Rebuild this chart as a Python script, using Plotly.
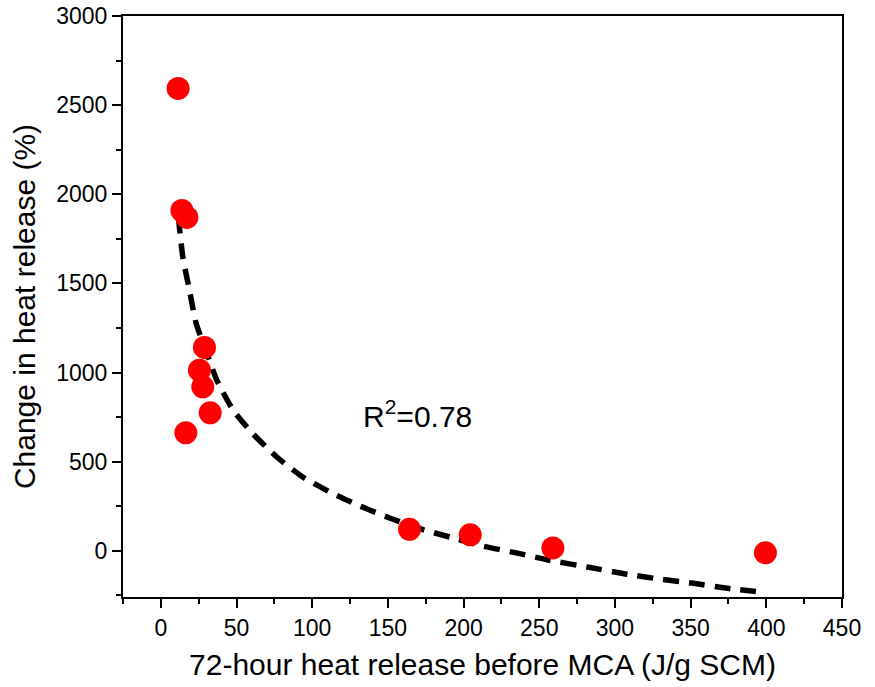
import plotly.graph_objects as go

# Measured samples: 72-hour heat release before MCA vs. change in heat release
heat_before = [11.4, 13.9, 17.2, 28.8, 25.5, 27.7, 32.6, 16.5, 164.3, 204.4, 259.0, 399.4]
change_pct = [2594, 1909, 1870, 1141, 1013, 920, 774, 662, 121, 90, 16, -11]

# Trend line (fitted curve) values
fit_x = [11.6, 14.5, 18.9, 23.3, 30.4, 37.0, 47.8, 61.0, 76.8, 94.0, 113.0, 131.7,
         151.5, 170.0, 191.0, 213.0, 235.6, 256.0, 281.8, 308.0, 330.0, 352.0, 373.0, 398.0]
fit_y = [1870, 1650, 1462, 1277, 1109, 957, 789, 655, 525, 413, 324, 251,
         183, 127, 77, 26, -13, -52, -91, -131, -159, -182, -209, -232]

r2_text = "R<sup>2</sup>=0.78"

FONT = "Liberation Sans, Arial, sans-serif"

fig = go.Figure()

fig.add_trace(go.Scatter(
    x=fit_x, y=fit_y, mode="lines",
    line=dict(color="black", width=5.5, dash="16px,10px", shape="spline", smoothing=0.6),
    hoverinfo="skip", showlegend=False,
))

fig.add_trace(go.Scatter(
    x=heat_before, y=change_pct, mode="markers",
    marker=dict(color="#ff0000", size=23, line=dict(width=0)),
    showlegend=False,
))

fig.add_annotation(
    x=132, y=765, xref="x", yref="y", text=r2_text, showarrow=False,
    xanchor="left", yanchor="middle",
    font=dict(family=FONT, size=30, color="black"),
)

axis_common = dict(
    showgrid=False, zeroline=False, automargin=False,
    showline=True, linecolor="black", linewidth=2, mirror=True,
    ticks="outside", ticklen=9, tickwidth=2, tickcolor="black",
    tickfont=dict(family=FONT, size=23, color="black"),
)

fig.update_xaxes(
    range=[-25, 450], tickmode="array", tickvals=[0, 50, 100, 150, 200, 250, 300, 350, 400, 450],
    minor=dict(ticks="outside", ticklen=5, tickwidth=2, tickcolor="black", dtick=25, tick0=-25),
    title=dict(text="72-hour heat release before MCA (J/g SCM)",
               font=dict(family=FONT, size=30, color="black"), standoff=14),
    **axis_common,
)
fig.update_yaxes(
    range=[-259, 3000], tickmode="array", tickvals=[0, 500, 1000, 1500, 2000, 2500, 3000],
    minor=dict(ticks="outside", ticklen=5, tickwidth=2, tickcolor="black", dtick=250, tick0=0),
    title=dict(text="Change in heat release (%)",
               font=dict(family=FONT, size=30, color="black"), standoff=12),
    **axis_common,
)

fig.update_layout(
    width=875, height=687,
    margin=dict(l=123, r=33, t=16, b=90),
    paper_bgcolor="white", plot_bgcolor="white",
)

fig.write_html("out.html")
